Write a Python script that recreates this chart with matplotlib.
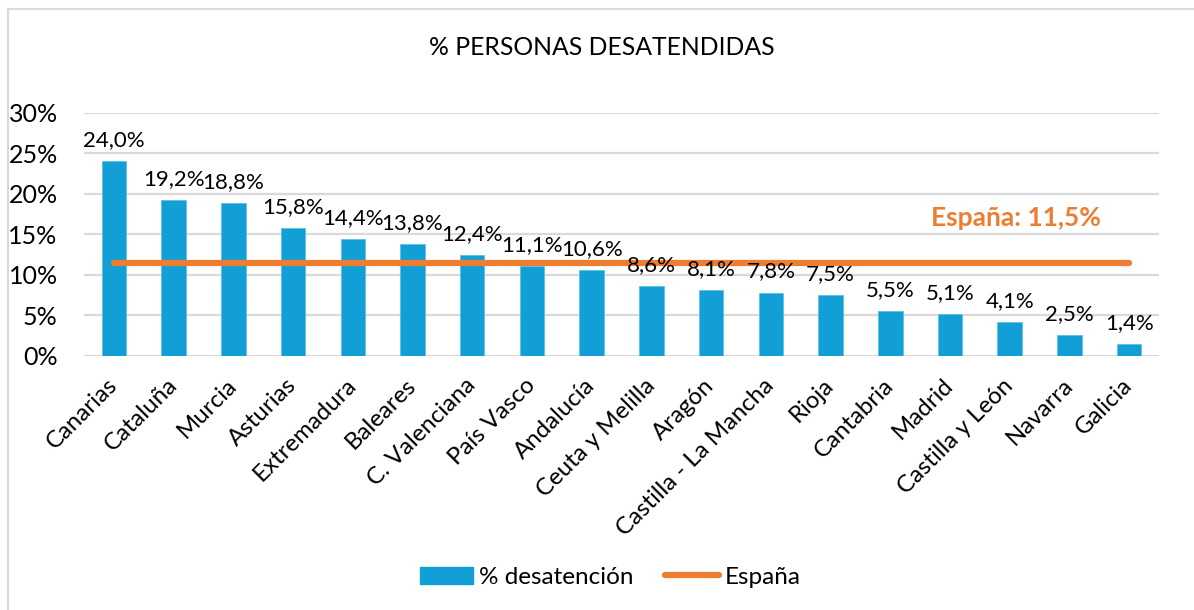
import matplotlib
matplotlib.use("Agg")
import matplotlib.pyplot as plt
from matplotlib.patches import Rectangle
from matplotlib.lines import Line2D
from matplotlib.ticker import FuncFormatter

regions = ["Canarias", "Cataluña", "Murcia", "Asturias", "Extremadura", "Baleares",
           "C. Valenciana", "País Vasco", "Andalucía", "Ceuta y Melilla", "Aragón",
           "Castilla - La Mancha", "Rioja", "Cantabria", "Madrid", "Castilla y León",
           "Navarra", "Galicia"]
desatencion = [24.0, 19.2, 18.8, 15.8, 14.4, 13.8, 12.4, 11.1, 10.6, 8.6, 8.1, 7.8,
               7.5, 5.5, 5.1, 4.1, 2.5, 1.4]
espana = 11.5
yticks = [0, 5, 10, 15, 20, 25, 30]

BLUE = "#129FD6"
ORANGE = "#ED7D31"
plt.rcParams['font.family'] = ['Lato', 'DejaVu Sans']

fig = plt.figure(figsize=(11.94, 6.10), dpi=100)
ax = fig.add_axes([0.0704, 0.4169, 0.9003, 0.3983])

# chart frame (left and top edges visible)
fig.patches.append(Rectangle((8/1194, -0.1), 1.2, 1.1 - 9/610, transform=fig.transFigure,
                             fill=False, edgecolor="#D9D9D9", linewidth=1.5))

x = list(range(len(regions)))
ax.bar(x, desatencion, width=0.41, color=BLUE, edgecolor="#5CC0E8", linewidth=0.6, zorder=2)
ax.plot([x[0], x[-1]], [espana, espana], color=ORANGE, linewidth=4.5,
        solid_capstyle='round', zorder=3)

for xi, v in zip(x, desatencion):
    ax.annotate(f"{v:.1f}".replace('.', ',') + "%", (xi, v), xytext=(0, 8),
                textcoords='offset points', ha='center', va='bottom', fontsize=16)

ax.text(15.1, 17.0, "España: " + f"{espana:.1f}".replace('.', ',') + "%",
        color=ORANGE, fontsize=19, fontweight='bold', ha='center', va='center')

ax.set_xlim(-0.5, len(regions) - 0.5)
ax.set_ylim(0, 30)
ax.set_yticks(yticks)
ax.yaxis.set_major_formatter(FuncFormatter(lambda v, p: f"{v:.0f}%"))
ax.grid(axis='y', color="#D9D9D9", linewidth=1.6, zorder=0)
ax.set_axisbelow(True)
for s in ax.spines.values():
    s.set_visible(False)
ax.tick_params(axis='both', length=0)
ax.tick_params(axis='y', pad=19, labelsize=18)
ax.set_xticks(x)
ax.set_xticklabels(regions, rotation=45, ha='right', va='center', rotation_mode='anchor',
                   fontsize=17.3)
ax.tick_params(axis='x', pad=19)

fig.text(0.504, 0.922, "% PERSONAS DESATENDIDAS", ha='center', va='center', fontsize=17.8)

handles = [Rectangle((0, 0), 1, 1, color=BLUE),
           Line2D([0], [0], color=ORANGE, linewidth=4.5, solid_capstyle='round')]
fig.legend(handles, ["% desatención", "España"], loc='center', bbox_to_anchor=(0.511, 0.054),
           ncol=2, frameon=False, fontsize=17.5, handlelength=2.2, handletextpad=0.25,
           columnspacing=1.3)

fig.savefig("out.png", dpi=100, facecolor="white")
